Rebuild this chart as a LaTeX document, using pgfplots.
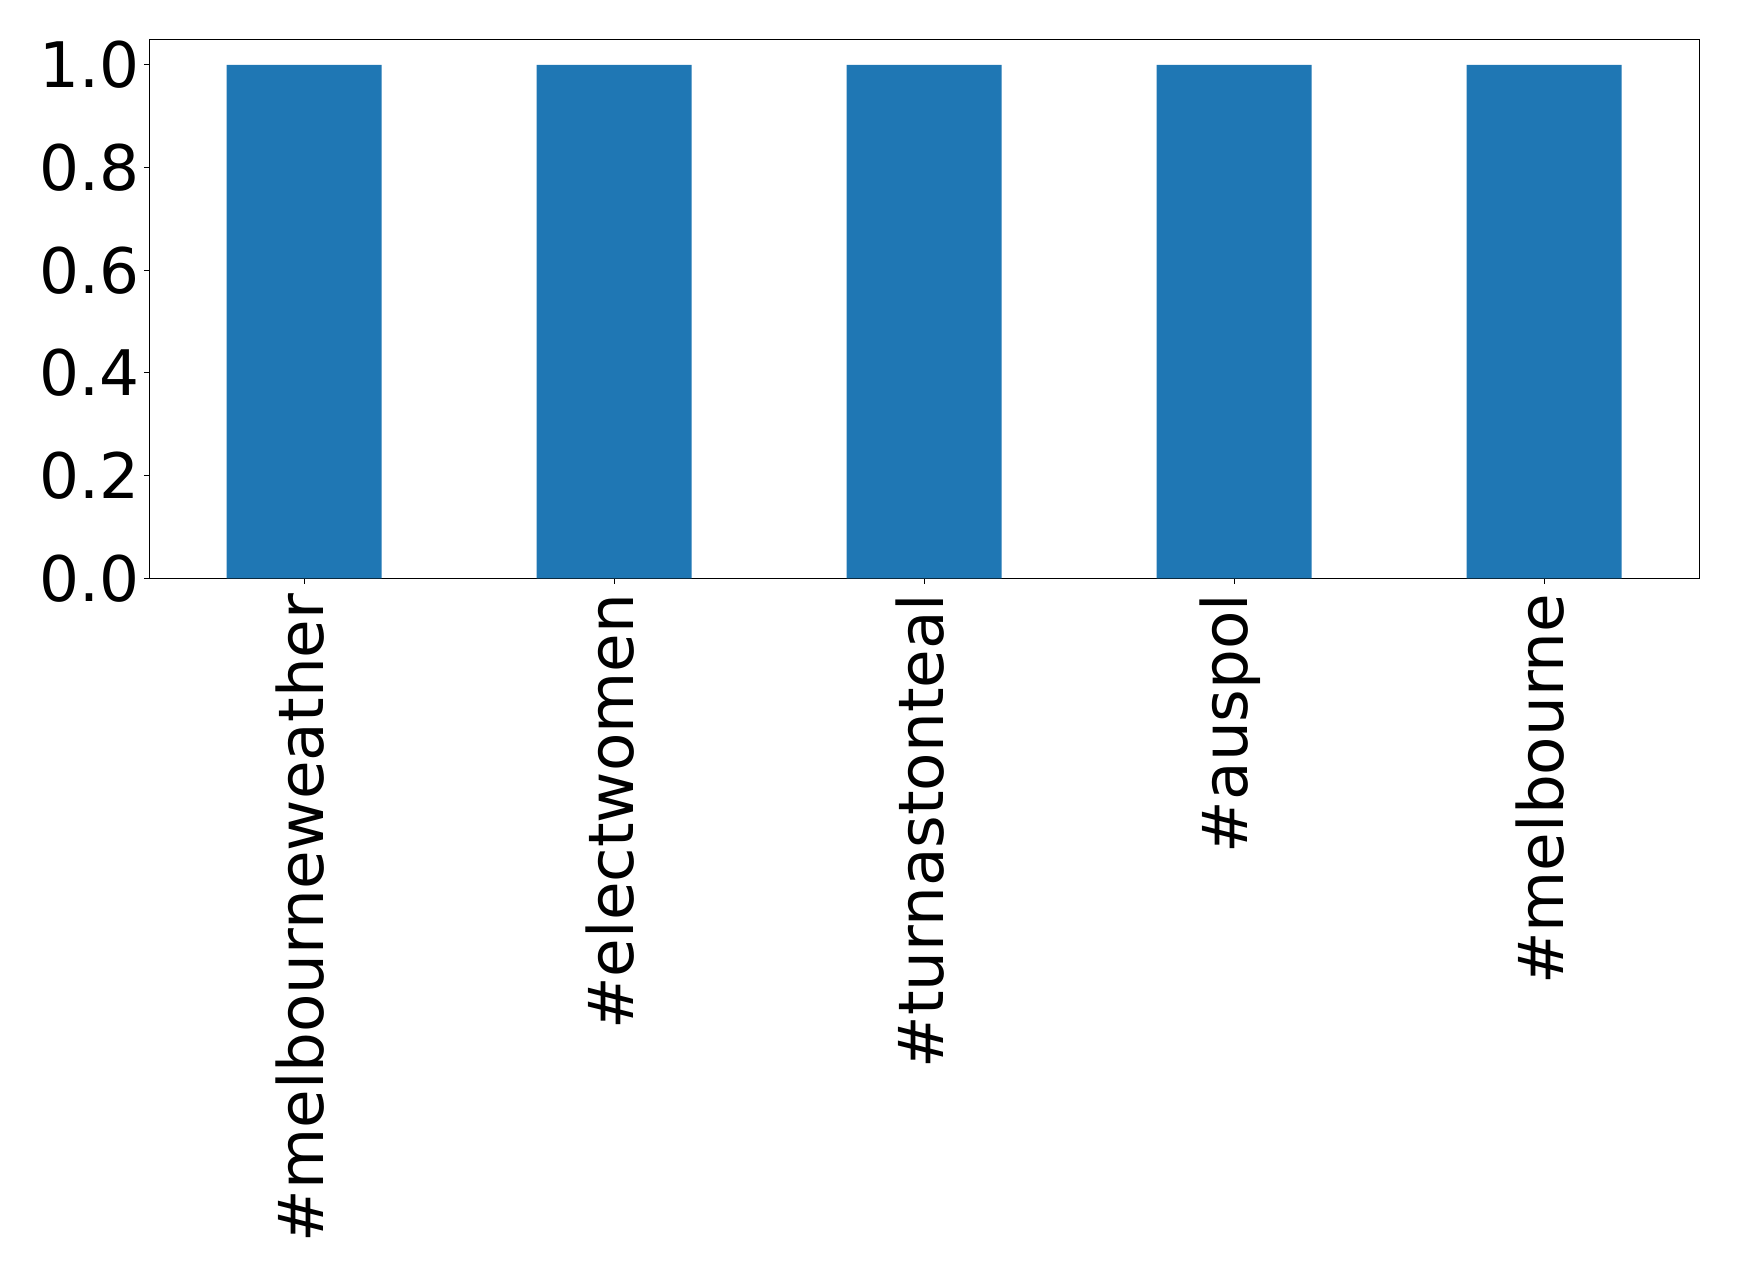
\documentclass[border=0pt]{standalone}
\usepackage{pgfplots}
\pgfplotsset{compat=1.18}
\usepackage{fontspec}
\setmainfont{DejaVu Sans}
\definecolor{mplblue}{HTML}{1F77B4}
\begin{document}
\begin{tikzpicture}
\useasboundingbox (0,0) rectangle (434.75pt,-318.25pt);
\begin{axis}[
  at={(37.3pt,-9.8pt)}, anchor=north west,
  scale only axis, width=387.5pt, height=134.8pt,
  xmin=-0.5, xmax=4.5, ymin=0, ymax=1.05,
  xtick={0,1,2,3,4},
  xticklabels={\#melbourneweather,\#electwomen,\#turnastonteal,\#auspol,\#melbourne},
  ytick={0,0.2,0.4,0.6,0.8,1.0},
  /pgf/number format/fixed, /pgf/number format/fixed zerofill,
  /pgf/number format/precision=1, /pgf/number format/assume math mode=true,
  yticklabel style={font=\fontsize{15.7pt}{18pt}\selectfont, xshift=2.4pt},
  xticklabel style={font=\fontsize{15.7pt}{18pt}\selectfont, xshift=-1pt, yshift=1pt, rotate=90, anchor=east},
  tick align=outside, tick pos=left,
  major tick length=1.3pt,
  every tick/.style={black, line width=0.25pt},
  axis line style={line width=0.25pt},
  ybar, bar width=0.5, bar shift=0pt,
]
\addplot[fill=mplblue, draw=none] coordinates {(0,1) (1,1) (2,1) (3,1) (4,1)};
\end{axis}
\end{tikzpicture}
\end{document}
